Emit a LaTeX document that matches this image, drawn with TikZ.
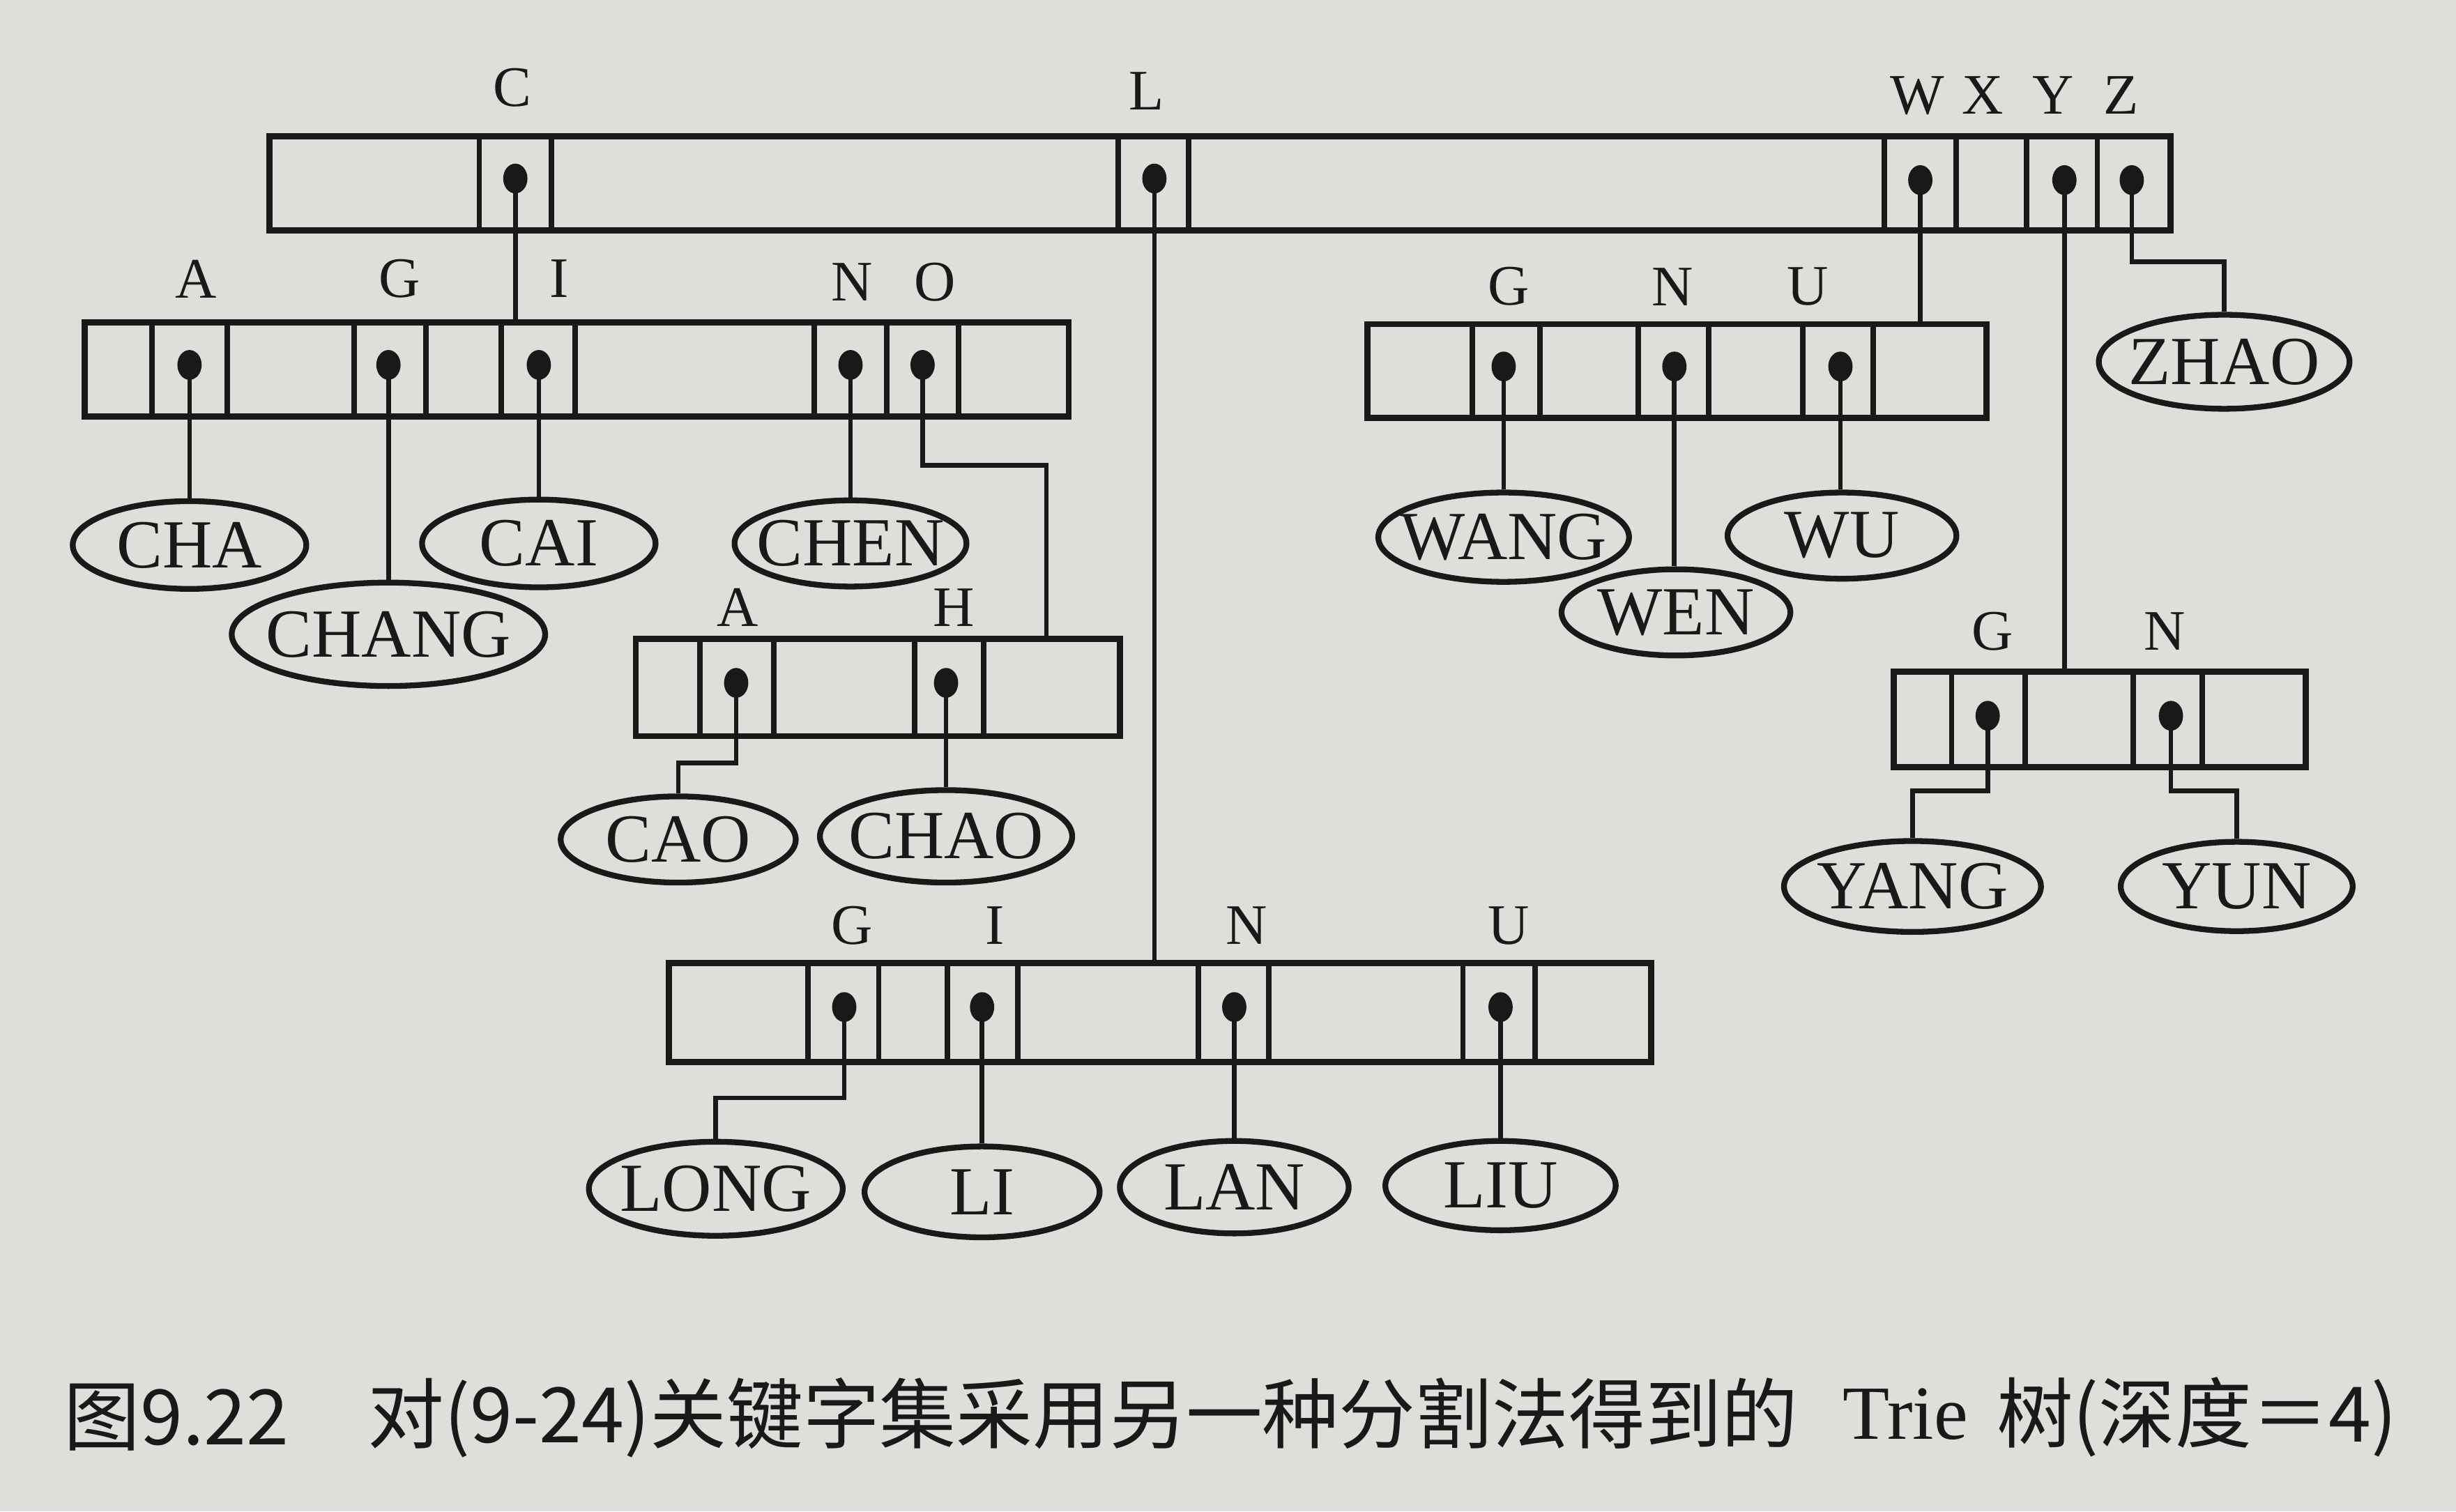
\documentclass[tikz,border=0pt]{standalone}
\usepackage{fontspec}
\setmainfont{Liberation Serif}
\newfontfamily\cjk{Noto Sans CJK SC}
\usetikzlibrary{shapes.geometric}
\definecolor{paper}{RGB}{221,223,219}
\definecolor{ink}{RGB}{25,25,25}
\newcommand\mb[1]{\makebox[0pt]{#1}}
\begin{document}
\begin{tikzpicture}[x=0.01cm,y=-0.01cm,
  arr/.style={draw=ink, line width=1.1pt, inner sep=0, anchor=north west, minimum height=0.6cm},
  div/.style={draw=ink, line width=1.0pt},
  dot/.style={ellipse, fill=ink, inner sep=0, minimum width=0.155cm, minimum height=0.19cm},
  conn/.style={draw=ink, line width=0.85pt},
  leaf/.style={ellipse, draw=ink, line width=1.05pt, inner sep=0, text=ink, font=\fontsize{12.5pt}{14pt}\selectfont},
  lab/.style={text=ink, inner sep=0, font=\fontsize{10.4pt}{12pt}\selectfont},
  captext/.style={text=ink, inner sep=0, anchor=west, font=\cjk\fontsize{13.9pt}{16pt}\selectfont}]
\fill[paper] (0,0) rectangle (1568,965);
\useasboundingbox (0,0) rectangle (1568,965);

% ---- arrays
\node[arr, minimum width=12.13cm] (T) at (170,85) {};
\node[arr, minimum width=6.28cm] (C2) at (52,204) {};
\node[arr, minimum width=3.95cm] (W2) at (871,205) {};
\node[arr, minimum width=2.63cm, minimum height=0.61cm] (Y2) at (1207,427) {};
\node[arr, minimum width=3.09cm, minimum height=0.62cm] (AH) at (404,406) {};
\node[arr, minimum width=6.27cm, minimum height=0.63cm] (L2) at (425,613) {};

\foreach \x in {306,352,714,759,1203,1249,1294,1339} \draw[div] (\x,0 |- T.north) -- (\x,0 |- T.south);
\foreach \x in {97,145,226,272,320,367,520,566,612} \draw[div] (\x,0 |- C2.north) -- (\x,0 |- C2.south);
\foreach \x in {940,983,1046,1091,1151,1196} \draw[div] (\x,0 |- W2.north) -- (\x,0 |- W2.south);
\foreach \x in {1246,1293,1362,1406} \draw[div] (\x,0 |- Y2.north) -- (\x,0 |- Y2.south);
\foreach \x in {447,494,584,628} \draw[div] (\x,0 |- AH.north) -- (\x,0 |- AH.south);
\foreach \x in {516,561,605,650,765,810,934,980} \draw[div] (\x,0 |- L2.north) -- (\x,0 |- L2.south);

% ---- letter labels
\node[lab] (lbC) at (327,56) {C};
\node[lab] (lbL) at (732,58) {L};
\node[lab] (lbW) at (1224,61) {W};
\node[lab] (lbX) at (1266,61) {X};
\node[lab] (lbY) at (1311,61) {Y};
\node[lab] (lbZ) at (1354,61) {Z};
\node[lab] (lb2A) at (125,178) {A};
\node[lab] (lb2G) at (255,178) {G};
\node[lab] (lb2I) at (357,178) {I};
\node[lab] (lb2N) at (544,180) {N};
\node[lab] (lb2O) at (597,180) {O};
\node[lab] (lbWG) at (963,183) {G};
\node[lab] (lbWN) at (1068,183) {N};
\node[lab] (lbWU) at (1154,183) {U};
\node[lab] (lbYG) at (1272,403) {G};
\node[lab] (lbYN) at (1382,403) {N};
\node[lab] (lbAA) at (471,388) {A};
\node[lab] (lbAH) at (609,388) {H};
\node[lab] (lbLG) at (544,591) {G};
\node[lab] (lbLI) at (635,591) {I};
\node[lab] (lbLN) at (796,591) {N};
\node[lab] (lbLU) at (963,591) {U};

% ---- leaves
\node[leaf, minimum width=1.49cm, minimum height=0.56cm] (cha) at (121,348) {\mb{CHA}};
\node[leaf, minimum width=2.00cm, minimum height=0.66cm] (chang) at (248,405) {\mb{CHANG}};
\node[leaf, minimum width=1.49cm, minimum height=0.56cm] (cai) at (344,347) {\mb{CAI}};
\node[leaf, minimum width=1.48cm, minimum height=0.55cm] (chen) at (543,347) {\mb{CHEN}};
\node[leaf, minimum width=1.50cm, minimum height=0.55cm] (cao) at (433,536) {\mb{CAO}};
\node[leaf, minimum width=1.61cm, minimum height=0.59cm] (chao) at (604,534) {\mb{CHAO}};
\node[leaf, minimum width=1.60cm, minimum height=0.57cm] (wang) at (960,343) {\mb{WANG}};
\node[leaf, minimum width=1.46cm, minimum height=0.55cm] (wen) at (1070,391) {\mb{WEN}};
\node[leaf, minimum width=1.46cm, minimum height=0.55cm] (wu) at (1176,342) {\mb{WU}};
\node[leaf, minimum width=1.60cm, minimum height=0.60cm] (zhao) at (1420,231) {\mb{ZHAO}};
\node[leaf, minimum width=1.64cm, minimum height=0.58cm] (yang) at (1221,566) {\mb{YANG}};
\node[leaf, minimum width=1.48cm, minimum height=0.57cm] (yun) at (1428,566) {\mb{YUN}};
\node[leaf, minimum width=1.62cm, minimum height=0.60cm] (long) at (457,759) {\mb{LONG}};
\node[leaf, minimum width=1.50cm, minimum height=0.58cm] (li) at (627,761) {\mb{LI}};
\node[leaf, minimum width=1.46cm, minimum height=0.59cm] (lan) at (788,758) {\mb{LAN}};
\node[leaf, minimum width=1.47cm, minimum height=0.57cm] (liu) at (958,757) {\mb{LIU}};

% ---- pointer dots
\node[dot] (tC) at (329,114) {};
\node[dot] (tL) at (737,114) {};
\node[dot] (tW) at (1226,115) {};
\node[dot] (tY) at (1318,115) {};
\node[dot] (tZ) at (1361,115) {};
\node[dot] (cA) at (121,233) {};
\node[dot] (cG) at (248,233) {};
\node[dot] (cI) at (344,233) {};
\node[dot] (cN) at (543,233) {};
\node[dot] (cO) at (589,233) {};
\node[dot] (wG) at (960,234) {};
\node[dot] (wN) at (1069,234) {};
\node[dot] (wU) at (1175,234) {};
\node[dot] (yG) at (1269,457) {};
\node[dot] (yN) at (1386,457) {};
\node[dot] (aA) at (470,436) {};
\node[dot] (aH) at (604,436) {};
\node[dot] (lG) at (539,643) {};
\node[dot] (lI) at (627,643) {};
\node[dot] (lN) at (788,643) {};
\node[dot] (lU) at (958,643) {};

% ---- connectors
\draw[conn] (tC.center) -- (tC.center |- C2.north);
\draw[conn] (tL.center) -- (tL.center |- L2.north);
\draw[conn] (tW.center) -- (tW.center |- W2.north);
\draw[conn] (tY.center) -- (tY.center |- Y2.north);
\draw[conn] (tZ.center) -- (tZ.center |- 0,167) -| (zhao.north);
\draw[conn] (cA.center) -- (cA.center |- cha.north);
\draw[conn] (cG.center) -- (cG.center |- chang.north);
\draw[conn] (cI.center) -- (cI.center |- cai.north);
\draw[conn] (cN.center) -- (cN.center |- chen.north);
\draw[conn] (cO.center) -- (cO.center |- 0,297) -| (668,0 |- AH.north);
\draw[conn] (aA.center) -- (aA.center |- 0,487) -| (cao.north);
\draw[conn] (aH.center) -- (aH.center |- chao.north);
\draw[conn] (wG.center) -- (wG.center |- wang.north);
\draw[conn] (wN.center) -- (wN.center |- wen.north);
\draw[conn] (wU.center) -- (wU.center |- wu.north);
\draw[conn] (yG.center) -- (yG.center |- 0,505) -| (yang.north);
\draw[conn] (yN.center) -- (yN.center |- 0,505) -| (yun.north);
\draw[conn] (lG.center) -- (lG.center |- 0,701) -| (long.north);
\draw[conn] (lI.center) -- (lI.center |- li.north);
\draw[conn] (lN.center) -- (lN.center |- lan.north);
\draw[conn] (lU.center) -- (lU.center |- liu.north);

% ---- caption
\node[captext] (cap1) at (40,905) {图9.22};
\node[captext] (cap2) at (234,905) {对(9-24)关键字集采用另一种分割法得到的};
\node[captext, font=\fontsize{13.9pt}{16pt}\selectfont] (cap3) at (1176,903) {Trie};
\node[captext] (cap4) at (1274,905) {树(深度＝4)};
\end{tikzpicture}
\end{document}
